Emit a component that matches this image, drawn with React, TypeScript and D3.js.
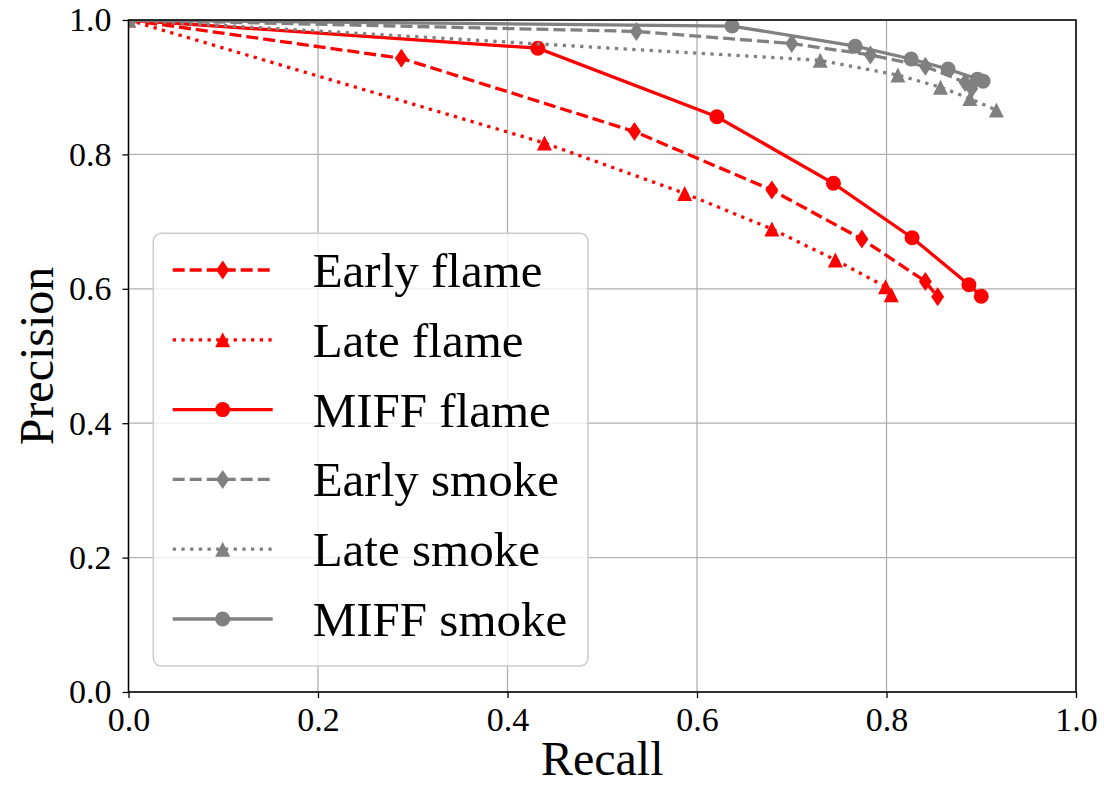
import { useEffect, useRef } from 'react'
import * as d3 from 'd3'

// Precision / recall points
const earlyFlameRecall = [0, 0.288, 0.534, 0.679, 0.774, 0.841, 0.854]
const earlyFlamePrecision = [1, 0.943, 0.834, 0.747, 0.674, 0.611, 0.588]
const lateFlameRecall = [0, 0.439, 0.587, 0.679, 0.746, 0.799, 0.805]
const lateFlamePrecision = [1, 0.817, 0.742, 0.689, 0.643, 0.603, 0.591]
const miffFlameRecall = [0, 0.432, 0.621, 0.744, 0.827, 0.887, 0.9]
const miffFlamePrecision = [1, 0.958, 0.856, 0.757, 0.676, 0.606, 0.589]
const earlySmokeRecall = [0, 0.536, 0.7, 0.783, 0.841, 0.883, 0.89]
const earlySmokePrecision = [1, 0.983, 0.965, 0.948, 0.931, 0.907, 0.898]
const lateSmokeRecall = [0, 0.73, 0.812, 0.857, 0.888, 0.916]
const lateSmokePrecision = [1, 0.94, 0.918, 0.9, 0.883, 0.866]
const miffSmokeRecall = [0, 0.637, 0.767, 0.826, 0.865, 0.896, 0.902]
const miffSmokePrecision = [1, 0.991, 0.961, 0.942, 0.927, 0.912, 0.909]

const seriesNames = ['Early flame', 'Late flame', 'MIFF flame', 'Early smoke', 'Late smoke', 'MIFF smoke']
const xTicks = [0, 0.2, 0.4, 0.6, 0.8, 1.0]
const yTicks = [0, 0.2, 0.4, 0.6, 0.8, 1.0]

const RED = '#ff0000'
const GRAY = '#808080'
const FONT = '"Liberation Serif", "Times New Roman", serif'

const markerPath = (kind) => {
	if (kind === 'diamond') return 'M0,-9.5L6.5,0L0,9.5L-6.5,0Z'
	if (kind === 'triangle') return 'M0,-7.5L7.5,7.5L-7.5,7.5Z'
	return d3.arc()({ innerRadius: 0, outerRadius: 7.5, startAngle: 0, endAngle: 2 * Math.PI })
}

const series = [
	{ name: seriesNames[0], xs: earlyFlameRecall, ys: earlyFlamePrecision, color: RED, dash: '12,5', marker: 'diamond' },
	{ name: seriesNames[1], xs: lateFlameRecall, ys: lateFlamePrecision, color: RED, dash: '3.3,5.4', marker: 'triangle' },
	{ name: seriesNames[2], xs: miffFlameRecall, ys: miffFlamePrecision, color: RED, dash: null, marker: 'circle' },
	{ name: seriesNames[3], xs: earlySmokeRecall, ys: earlySmokePrecision, color: GRAY, dash: '12,5', marker: 'diamond' },
	{ name: seriesNames[4], xs: lateSmokeRecall, ys: lateSmokePrecision, color: GRAY, dash: '3.3,5.4', marker: 'triangle' },
	{ name: seriesNames[5], xs: miffSmokeRecall, ys: miffSmokePrecision, color: GRAY, dash: null, marker: 'circle' },
]

const PRChart = () => {
	const svgRef = useRef()

	useEffect(() => {
		const width = 1104
		const height = 786
		const left = 128.5
		const right = 1076
		const top = 20
		const bottom = 692

		const svg = d3.select(svgRef.current)
		svg.selectAll('*').remove()
		svg.attr('width', width).attr('height', height)

		const x = d3.scaleLinear().domain([0, 1]).range([left, right])
		const y = d3.scaleLinear().domain([0, 1]).range([bottom, top])

		// Grid
		const grid = svg.append('g')
		grid
			.selectAll('line.gx')
			.data(xTicks)
			.join('line')
			.attr('x1', (d) => x(d))
			.attr('x2', (d) => x(d))
			.attr('y1', top)
			.attr('y2', bottom)
		grid
			.selectAll('line.gy')
			.data(yTicks)
			.join('line')
			.attr('x1', left)
			.attr('x2', right)
			.attr('y1', (d) => y(d))
			.attr('y2', (d) => y(d))
		grid.selectAll('line').attr('stroke', '#b0b0b0').attr('stroke-width', 1.3)

		// Axes
		const xAxis = svg
			.append('g')
			.attr('transform', `translate(0,${bottom})`)
			.call(d3.axisBottom(x).tickValues(xTicks).tickFormat(d3.format('.1f')).tickSize(6).tickPadding(9))
		const yAxis = svg
			.append('g')
			.attr('transform', `translate(${left},0)`)
			.call(d3.axisLeft(y).tickValues(yTicks).tickFormat(d3.format('.1f')).tickSize(6).tickPadding(11))
		for (const ax of [xAxis, yAxis]) {
			ax.attr('font-family', null).attr('font-size', null)
			ax.select('.domain').remove()
			ax.selectAll('line').attr('stroke', '#000').attr('stroke-width', 1.3)
			ax.selectAll('text')
				.attr('fill', '#000')
				.style('font-family', FONT)
				.style('font-size', '34px')
		}

		// Lines and markers
		svg
			.append('clipPath')
			.attr('id', 'plot-clip')
			.append('rect')
			.attr('x', left)
			.attr('y', top)
			.attr('width', right - left)
			.attr('height', bottom - top)

		const plot = svg.append('g').attr('clip-path', 'url(#plot-clip)')
		const line = d3
			.line()
			.x((d) => x(d[0]))
			.y((d) => y(d[1]))

		series.forEach((s) => {
			const pts = s.xs.map((v, i) => [v, s.ys[i]])
			const g = plot.append('g')
			g.append('path')
				.attr('d', line(pts))
				.attr('fill', 'none')
				.attr('stroke', s.color)
				.attr('stroke-width', 3.3)
				.attr('stroke-dasharray', s.dash)
			g.selectAll('path.mk')
				.data(pts)
				.join('path')
				.attr('class', 'mk')
				.attr('d', markerPath(s.marker))
				.attr('transform', (d) => `translate(${x(d[0])},${y(d[1])})`)
				.attr('fill', s.color)
		})

		// Frame
		svg
			.append('rect')
			.attr('x', left)
			.attr('y', top)
			.attr('width', right - left)
			.attr('height', bottom - top)
			.attr('fill', 'none')
			.attr('stroke', '#000')
			.attr('stroke-width', 1.5)

		// Axis labels
		svg
			.append('text')
			.attr('x', (left + right) / 2)
			.attr('y', 775)
			.attr('text-anchor', 'middle')
			.style('font-family', FONT)
			.style('font-size', '48px')
			.text('Recall')

		svg
			.append('text')
			.attr('transform', 'rotate(-90)')
			.attr('x', -(top + bottom) / 2)
			.attr('y', 53)
			.attr('text-anchor', 'middle')
			.style('font-family', FONT)
			.style('font-size', '48px')
			.text('Precision')

		// Legend
		const legend = svg.append('g')
		legend
			.append('rect')
			.attr('x', 153.3)
			.attr('y', 233.3)
			.attr('width', 434.7)
			.attr('height', 432.7)
			.attr('rx', 8)
			.attr('fill', 'white')
			.attr('fill-opacity', 0.8)
			.attr('stroke', '#cccccc')
			.attr('stroke-width', 1.5)

		const rowY = d3.scaleLinear().domain([0, 5]).range([270, 619])
		series.forEach((s, i) => {
			const cy = rowY(i)
			legend
				.append('line')
				.attr('x1', 172.7)
				.attr('x2', 272.7)
				.attr('y1', cy)
				.attr('y2', cy)
				.attr('stroke', s.color)
				.attr('stroke-width', 3.3)
				.attr('stroke-dasharray', s.dash)
			legend
				.append('path')
				.attr('d', markerPath(s.marker))
				.attr('transform', `translate(222.7,${cy})`)
				.attr('fill', s.color)
			legend
				.append('text')
				.attr('x', 312.7)
				.attr('y', cy + 17)
				.style('font-family', FONT)
				.style('font-size', '49px')
				.text(s.name)
		})
	}, [])

	return <svg ref={svgRef} style={{ position: 'absolute', left: 0, top: 0 }}></svg>
}

export default function App() {
	return <PRChart />
}
